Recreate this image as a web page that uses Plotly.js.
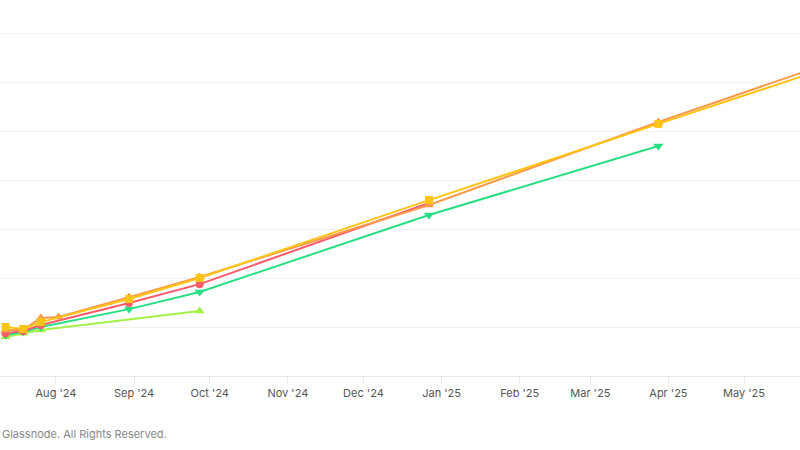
<!DOCTYPE html>
<html>
<head>
<meta charset="utf-8">
<script src="https://cdn.plot.ly/plotly-3.0.1.min.js"></script>
<style>html,body{margin:0;padding:0;background:#fff;}#chart{width:800px;height:450px;}</style>
</head>
<body>
<div id="chart"></div>
<script>
// Expiry dates (x) and futures prices (y) per series
const expiriesYellow = ['2024-07-12','2024-07-19','2024-07-26','2024-08-30','2024-09-27','2024-12-27','2025-03-28','2025-06-27'];
const valuesYellow   = [62000, 61920, 62200, 63140, 64000, 67180, 70290, 73390];

const expiriesOrange = ['2024-07-12','2024-07-19','2024-07-26','2024-08-02','2024-08-30','2024-09-27','2024-12-27','2025-03-28','2025-06-27'];
const valuesOrange   = [61880, 61880, 62370, 62410, 63220, 64040, 66980, 70370, 73590];

const expiriesRed = ['2024-07-12','2024-07-19','2024-07-26','2024-08-30','2024-09-27','2024-12-27'];
const valuesRed   = [61750, 61840, 62080, 62980, 63750, 67060];

const expiriesGreen = ['2024-07-12','2024-07-19','2024-07-26','2024-08-30','2024-09-27','2024-12-27','2025-03-28'];
const valuesGreen   = [61670, 61800, 62000, 62730, 63430, 66570, 69390];

const expiriesLime = ['2024-07-12','2024-07-19','2024-07-26','2024-09-27'];
const valuesLime   = [61590, 61750, 61880, 62650];

const tickMonths = ['2024-08-01','2024-09-01','2024-10-01','2024-11-01','2024-12-01','2025-01-01','2025-02-01','2025-03-01','2025-04-01','2025-05-01'];

function tr(name, x, y, color, symbol, size) {
  return {
    type: 'scatter', mode: 'lines+markers', name: name, x: x, y: y,
    line: {color: color, width: 2},
    marker: {color: color, symbol: symbol, size: size},
    hoverinfo: 'x+y+name'
  };
}

const data = [
  tr('Series E', expiriesLime, valuesLime, '#a6f04a', 'triangle-up', 9),
  tr('Series D', expiriesGreen, valuesGreen, '#28de84', 'triangle-down', 9),
  tr('Series C', expiriesRed, valuesRed, '#ff5b6b', 'circle', 8),
  tr('Series B', expiriesOrange, valuesOrange, '#fb9a4a', 'triangle-up', 9),
  tr('Series A', expiriesYellow, valuesYellow, '#ffc415', 'square', 8)
];

const layout = {
  width: 800, height: 450,
  margin: {l: 0, r: 0, t: 0, b: 74},
  paper_bgcolor: '#ffffff', plot_bgcolor: '#ffffff',
  showlegend: false,
  font: {family: 'Inter, "Open Sans", sans-serif', color: '#555'},
  xaxis: {
    type: 'date',
    range: ['2024-07-09 19:00', '2025-05-23 05:00'],
    tickvals: tickMonths,
    tickformat: "%b '%y",
    showgrid: false,
    showline: true, linecolor: '#e8e8e8', linewidth: 1,
    ticks: 'outside', ticklen: 7, tickcolor: '#e8e8e8',
    tickfont: {size: 11, color: '#555'},
    zeroline: false, fixedrange: true
  },
  yaxis: {
    range: [60000, 75347],
    dtick: 2000, tick0: 60000,
    showticklabels: false,
    showgrid: true, gridcolor: '#f1f1f1', gridwidth: 1,
    zeroline: false, showline: false, ticks: '', fixedrange: true
  },
  annotations: [{
    xref: 'paper', yref: 'paper', x: 0, y: 0, yshift: -58, xshift: 0,
    xanchor: 'left', yanchor: 'middle', showarrow: false,
    text: 'Glassnode. All Rights Reserved.',
    font: {size: 11, color: '#888'}
  }]
};

Plotly.newPlot('chart', data, layout, {displayModeBar: false, staticPlot: true});
</script>
</body>
</html>
